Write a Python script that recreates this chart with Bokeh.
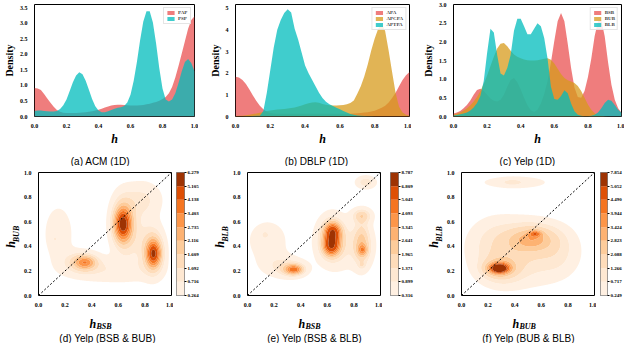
import numpy as np
from bokeh.plotting import figure
from bokeh.layouts import row, column
from bokeh.models import Range1d, FixedTicker, Label, Legend, LegendItem, NumeralTickFormatter, LinearAxis
from bokeh.embed import file_html
from bokeh.resources import INLINE

# ---------------- data ----------------
h_grid = np.linspace(0.0, 1.0, 51)   # h = 0.00, 0.02, ..., 1.00

acm_pap = [0.92, 0.90, 0.85, 0.72, 0.58, 0.44, 0.31, 0.21, 0.15, 0.12,
           0.11, 0.11, 0.11, 0.11, 0.12, 0.13, 0.14, 0.15, 0.17, 0.19,
           0.22, 0.25, 0.29, 0.32, 0.35, 0.37, 0.38, 0.38, 0.37, 0.36,
           0.35, 0.35, 0.35, 0.36, 0.37, 0.39, 0.41, 0.44, 0.47, 0.51,
           0.56, 0.63, 0.75, 0.95, 1.25, 1.62, 2.02, 2.42, 2.82, 3.10, 3.22]
acm_psp = [0.18, 0.19, 0.19, 0.18, 0.17, 0.16, 0.16, 0.18, 0.24, 0.36,
           0.55, 0.82, 1.10, 1.32, 1.42, 1.36, 1.15, 0.86, 0.56, 0.33,
           0.19, 0.14, 0.14, 0.17, 0.21, 0.25, 0.28, 0.30, 0.34, 0.45,
           0.70, 1.15, 1.75, 2.45, 3.05, 3.38, 3.38, 3.02, 2.35, 1.55,
           0.90, 0.55, 0.48, 0.55, 0.75, 1.08, 1.45, 1.75, 1.85, 1.72, 1.45]

dblp_apa = [1.83, 1.80, 1.68, 1.50, 1.25, 0.97, 0.72, 0.50, 0.33, 0.22,
            0.16, 0.14, 0.13, 0.13, 0.13, 0.13, 0.13, 0.13, 0.13, 0.13,
            0.13, 0.13, 0.13, 0.13, 0.13, 0.13, 0.13, 0.13, 0.13, 0.13,
            0.13, 0.13, 0.13, 0.13, 0.14, 0.15, 0.16, 0.18, 0.20, 0.23,
            0.27, 0.33, 0.40, 0.50, 0.65, 0.85, 1.10, 1.40, 1.68, 1.90, 2.05]
dblp_apcpa = [0.02, 0.03, 0.04, 0.06, 0.08, 0.11, 0.14, 0.17, 0.21, 0.25,
              0.28, 0.30, 0.32, 0.33, 0.35, 0.37, 0.39, 0.42, 0.46, 0.51,
              0.56, 0.61, 0.65, 0.66, 0.63, 0.58, 0.54, 0.52, 0.51, 0.51,
              0.52, 0.53, 0.56, 0.62, 0.74, 1.05, 1.40, 1.85, 2.40, 3.05,
              3.60, 4.05, 4.30, 3.95, 3.05, 2.05, 1.10, 0.45, 0.18, 0.08, 0.04]
dblp_aptpa = [0.00, 0.00, 0.00, 0.01, 0.01, 0.02, 0.03, 0.04, 0.25, 1.10,
              2.15, 3.20, 4.00, 4.45, 4.78, 4.95, 4.80, 4.05, 3.55, 2.95,
              2.35, 2.00, 1.70, 1.40, 1.10, 0.85, 0.68, 0.56, 0.48, 0.40,
              0.33, 0.25, 0.18, 0.12, 0.08, 0.05, 0.03, 0.02, 0.01, 0.01,
              0.00, 0.00, 0.00, 0.00, 0.00, 0.00, 0.00, 0.00, 0.00, 0.00, 0.00]

yelp_bsb = [0.08, 0.11, 0.15, 0.22, 0.31, 0.43, 0.58, 0.71, 0.74, 0.68,
            0.58, 0.48, 0.42, 0.40, 0.45, 0.58, 0.80, 0.98, 1.03, 0.92,
            0.72, 0.50, 0.30, 0.17, 0.12, 0.18, 0.35, 0.60, 0.95, 1.45,
            2.02, 2.55, 2.77, 2.55, 1.95, 1.30, 0.78, 0.52, 0.50, 0.68,
            1.05, 1.55, 2.15, 2.55, 2.58, 2.15, 1.45, 0.85, 0.45, 0.22, 0.10]
yelp_bub = [0.05, 0.08, 0.11, 0.16, 0.22, 0.30, 0.40, 0.52, 0.68, 0.88,
            1.10, 1.35, 1.60, 1.82, 1.95, 1.97, 1.88, 1.76, 1.66, 1.60,
            1.56, 1.53, 1.51, 1.50, 1.50, 1.51, 1.53, 1.55, 1.56, 1.52,
            1.42, 1.28, 1.14, 1.03, 0.97, 0.94, 0.90, 0.82, 0.68, 0.50,
            0.32, 0.18, 0.09, 0.04, 0.02, 0.01, 0.00, 0.00, 0.00, 0.00, 0.00]
yelp_blb = [0.03, 0.04, 0.06, 0.08, 0.11, 0.16, 0.24, 0.36, 0.55, 0.95,
            1.70, 2.35, 2.25, 1.65, 1.15, 1.10, 1.30, 1.65, 2.30, 2.62,
            2.62, 2.42, 2.20, 2.20, 2.35, 2.50, 2.42, 2.10, 1.55, 0.80,
            0.47, 0.45, 0.55, 0.70, 0.62, 0.35, 0.14, 0.05, 0.02, 0.01,
            0.01, 0.02, 0.05, 0.11, 0.22, 0.36, 0.45, 0.42, 0.31, 0.18, 0.10]

# 2-D KDE: estimated kernel centres / spreads / heights of each visible mass
d_cx = [0.635, 0.635, 0.865, 0.865, 0.350, 0.330, 0.150, 0.120, 0.550, 0.780, 0.750]
d_cy = [0.580, 0.590, 0.340, 0.350, 0.270, 0.270, 0.500, 0.460, 0.200, 0.780, 0.450]
d_sx = [0.040, 0.060, 0.035, 0.055, 0.050, 0.090, 0.080, 0.020, 0.220, 0.100, 0.100]
d_sy = [0.080, 0.140, 0.065, 0.120, 0.035, 0.060, 0.170, 0.020, 0.070, 0.100, 0.150]
d_pk = [3.8, 2.0, 3.5, 1.8, 2.0, 1.3, 0.55, 0.25, 0.6, 0.8, 0.6]
d_levels = [0.264, 0.716, 1.092, 1.609, 2.116, 2.735, 3.403, 4.138, 5.105, 6.279]

e_cx = [0.640, 0.630, 0.635, 0.350, 0.330, 0.865, 0.860, 0.860, 0.860, 0.890, 0.150, 0.130, 0.750, 0.220]
e_cy = [0.515, 0.405, 0.460, 0.210, 0.220, 0.370, 0.420, 0.245, 0.650, 0.920, 0.450, 0.500, 0.400, 0.250]
e_sx = [0.040, 0.040, 0.070, 0.045, 0.080, 0.025, 0.045, 0.020, 0.050, 0.050, 0.100, 0.025, 0.150, 0.100]
e_sy = [0.050, 0.050, 0.120, 0.028, 0.050, 0.030, 0.120, 0.020, 0.040, 0.035, 0.110, 0.025, 0.140, 0.070]
e_pk = [5.0, 5.0, 2.0, 3.5, 1.2, 2.2, 2.0, 0.6, 1.6, 1.3, 0.75, 0.35, 0.6, 0.6]
e_levels = [0.316, 0.899, 1.371, 1.965, 2.641, 3.345, 4.093, 5.043, 6.809, 8.787]

f_cx = [0.280, 0.300, 0.555, 0.530, 0.450, 0.250, 0.720, 0.400, 0.380]
f_cy = [0.220, 0.220, 0.505, 0.460, 0.350, 0.450, 0.350, 0.920, 0.920]
f_sx = [0.060, 0.100, 0.035, 0.120, 0.220, 0.120, 0.100, 0.170, 0.050]
f_sy = [0.035, 0.080, 0.020, 0.070, 0.160, 0.120, 0.120, 0.035, 0.020]
f_pk = [4.5, 1.5, 2.0, 2.4, 1.2, 0.5, 0.5, 0.6, 0.35]
f_levels = [0.249, 0.717, 1.266, 2.088, 2.823, 3.424, 3.944, 4.490, 5.052, 7.854]

diag = [0.0, 1.0]
h_ticks = [0.0, 0.2, 0.4, 0.6, 0.8, 1.0]

# ---------------- styles ----------------
RED, GOLD, TEAL = "#E95151", "#D79B1C", "#00BCBC"
ORANGES = ["#fff0e2", "#fee8d2", "#fedcba", "#fdcc9b", "#fdb272",
           "#fd9649", "#f57521", "#de4f05", "#9e3303"]
SERIF = "Liberation Serif"
SANS = "Liberation Sans"
FIG = dict(output_backend="svg", toolbar_location=None)
BOT_H = 143   # height of bottom-row figures (top 6 + frame 128 + bottom 9)
NBSP = "\u00a0"


def axis_style(ax):
    ax.axis_line_color = None
    ax.major_tick_line_color = None
    ax.minor_tick_line_color = None
    ax.major_label_text_font = SERIF
    ax.major_label_text_font_style = "bold"
    ax.major_label_text_font_size = "6px"
    ax.major_label_text_color = "black"
    ax.major_label_standoff = 1
    ax.axis_label_text_color = "black"
    ax.axis_label_text_font = SERIF


def base_style(p):
    p.outline_line_color = "black"
    p.outline_line_width = 1
    p.grid.visible = False
    p.background_fill_color = "white"
    p.border_fill_color = "white"
    for ax in p.axis:
        axis_style(ax)


def strip(width, height):
    s = figure(width=width, height=height, x_range=Range1d(0, width), y_range=Range1d(0, height),
               min_border_left=0, min_border_right=0, min_border_top=0, min_border_bottom=0,
               x_axis_location=None, y_axis_location=None, **FIG)
    s.outline_line_color = None
    s.grid.visible = False
    return s


def text_label(s, x, y, text, size, style="normal", font=SERIF, align="left"):
    s.add_layout(Label(x=x, y=y, x_units="screen", y_units="screen", text=text,
                       text_font=font, text_font_size=size, text_font_style=style,
                       text_color="black", text_align=align, text_baseline="alphabetic"))


def density_panel(width, left, right, series, names, colors, ymax, yticks, yfmt):
    p = figure(width=width, height=148, x_range=Range1d(0, 1), y_range=Range1d(0, ymax),
               min_border_left=left, min_border_right=right, min_border_top=4,
               min_border_bottom=24, **FIG)
    items = []
    for vals, name, col in zip(series, names, colors):
        r = p.varea(x=h_grid, y1=0, y2=vals, fill_color=col, fill_alpha=0.75)
        items.append(LegendItem(label=name, renderers=[r]))
    base_style(p)
    p.xaxis.ticker = FixedTicker(ticks=h_ticks)
    p.xaxis.formatter = NumeralTickFormatter(format="0.0")
    p.yaxis.ticker = FixedTicker(ticks=yticks)
    p.yaxis.formatter = NumeralTickFormatter(format=yfmt)
    p.yaxis.axis_label = "Density"
    p.yaxis.axis_label_text_font_size = "10px"
    p.yaxis.axis_label_text_font_style = "bold"
    p.yaxis.axis_label_standoff = 2
    p.xaxis.axis_label = "h"
    p.xaxis.axis_label_text_font_size = "12px"
    p.xaxis.axis_label_text_font_style = "bold italic"
    p.xaxis.axis_label_standoff = 1
    leg = Legend(items=items, location="top_right", label_text_font=SERIF,
                 label_text_font_style="bold", label_text_font_size="5px",
                 glyph_width=9, glyph_height=5, label_height=5, label_width=10,
                 spacing=1, padding=2, margin=3, label_standoff=3,
                 border_line_color="#cccccc", border_line_width=0.5,
                 background_fill_alpha=0.85)
    p.add_layout(leg)
    return p


def kde_panel(cx, cy, sx, sy, pk, levels, ysub):
    p = figure(width=173, height=BOT_H, x_range=Range1d(0, 1), y_range=Range1d(0, 1),
               min_border_left=27, min_border_right=2, min_border_top=6,
               min_border_bottom=9, **FIG)
    grid = np.linspace(0.0, 1.0, 201)
    X, Y = np.meshgrid(grid, grid)
    Z = np.zeros_like(X)
    for a, b, c, d, e in zip(cx, cy, sx, sy, pk):
        Z += e * np.exp(-0.5 * ((X - a) / c) ** 2 - 0.5 * ((Y - b) / d) ** 2)
    lv = list(levels) + [max(float(Z.max()), levels[-1]) + 1.0]
    p.contour(grid, grid, Z, lv, fill_color=ORANGES + [ORANGES[-1]], line_color=None)
    p.line(diag, diag, line_color="black", line_dash="2 2", line_width=1)
    # y label h_{sub}: the subscript is the main axis label, the "h" the label of an
    # outer, tick-less axis (shifted down with trailing no-break spaces)
    h_axis = LinearAxis(ticker=FixedTicker(ticks=[]), axis_label="h" + NBSP * 7)
    p.add_layout(h_axis, "left")
    base_style(p)
    p.xaxis.ticker = FixedTicker(ticks=h_ticks)
    p.yaxis[0].ticker = FixedTicker(ticks=h_ticks)
    p.xaxis.formatter = NumeralTickFormatter(format="0.0")
    p.yaxis[0].formatter = NumeralTickFormatter(format="0.0")
    p.yaxis[0].axis_label = ysub
    p.yaxis[0].axis_label_text_font_size = "8px"
    p.yaxis[0].axis_label_text_font_style = "bold italic"
    p.yaxis[0].axis_label_standoff = 0
    h_axis.axis_label_text_font_size = "12px"
    h_axis.axis_label_text_font_style = "bold italic"
    h_axis.axis_label_standoff = -9
    h_axis.major_tick_out = 0
    h_axis.major_tick_in = 0
    return p


def colorbar_panel(width, left, right, levels):
    n = len(levels) - 1
    cb = figure(width=width, height=BOT_H, x_range=Range1d(0, 1), y_range=Range1d(0, n),
                min_border_left=left, min_border_right=right, min_border_top=6,
                min_border_bottom=9, x_axis_location=None, y_axis_location="right", **FIG)
    cb.quad(left=0, right=1, bottom=list(range(n)), top=list(range(1, n + 1)),
            fill_color=ORANGES[:n], line_color=None)
    base_style(cb)
    cb.outline_line_width = 0.5
    ax = cb.yaxis[0]
    ax.ticker = FixedTicker(ticks=list(range(n + 1)))
    ax.major_label_overrides = {i: f"{v:.3f}" for i, v in enumerate(levels)}
    ax.major_label_text_font_size = "5px"
    ax.major_tick_line_color = "black"
    ax.major_tick_out = 2
    ax.major_tick_in = 0
    ax.major_label_standoff = 1
    return cb


# ---------------- top row ----------------
pa = density_panel(198, 25, 4, [acm_pap, acm_psp], ["PAP", "PSP"], [RED, TEAL],
                   3.6, [0, 0.5, 1.0, 1.5, 2.0, 2.5, 3.0, 3.5], "0.0")
pb = density_panel(213, 37, 2, [dblp_apa, dblp_apcpa, dblp_aptpa], ["APA", "APCPA", "APTPA"],
                   [RED, GOLD, TEAL], 5.17, [0, 1, 2, 3, 4, 5], "0")
pc = density_panel(213, 42, 3, [yelp_bsb, yelp_bub, yelp_blb], ["BSB", "BUB", "BLB"],
                   [RED, GOLD, TEAL], 3.0, [0, 0.5, 1.0, 1.5, 2.0, 2.5, 3.0], "0.0")

top_caps = strip(624, 18)
text_label(top_caps, 100, 5, "(a) ACM (1D)", "10px", font=SANS, align="center")
text_label(top_caps, 316, 5, "(b) DBLP (1D)", "10px", font=SANS, align="center")
text_label(top_caps, 527, 5, "(c) Yelp (1D)", "10px", font=SANS, align="center")

# ---------------- bottom row ----------------
pd = kde_panel(d_cx, d_cy, d_sx, d_sy, d_pk, d_levels, "BUB")
pe = kde_panel(e_cx, e_cy, e_sx, e_sy, e_pk, e_levels, "BLB")
pf = kde_panel(f_cx, f_cy, f_sx, f_sy, f_pk, f_levels, "BLB")
cd = colorbar_panel(36, 3, 25, d_levels)
ce = colorbar_panel(41, 8, 25, e_levels)
cf = colorbar_panel(28, 4, 16, f_levels)

bottom_caps = strip(624, 34)
for cxp, xs, cap, dx in [(99, "BSB", "(d) Yelp (BSB & BUB)", 8),
                         (308, "BSB", "(e) Yelp (BSB & BLB)", 6),
                         (522, "BUB", "(f) Yelp (BUB & BLB)", 6)]:
    text_label(bottom_caps, cxp - 10, 20, "h", "12px", "bold italic")
    text_label(bottom_caps, cxp - 3, 17, xs, "8px", "bold italic")
    text_label(bottom_caps, cxp + dx, 5, cap, "10px", font=SANS, align="center")

layout = column(
    row(pa, pb, pc),
    top_caps,
    row(pd, cd, pe, ce, pf, cf),
    bottom_caps,
)
open("out.html", "w").write(file_html(layout, INLINE))
